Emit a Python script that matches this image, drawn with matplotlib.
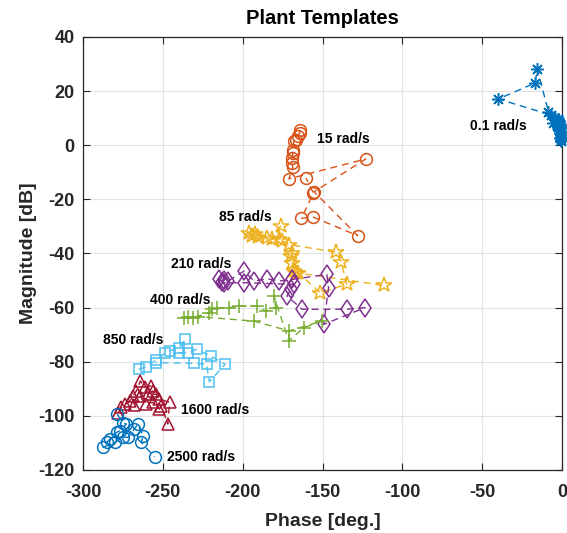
import matplotlib
matplotlib.use("Agg")
import matplotlib.pyplot as plt

plt.rcParams['font.family'] = ['Liberation Sans', 'DejaVu Sans']
plt.rcParams['font.weight'] = 'bold'
plt.rcParams['axes.unicode_minus'] = False

# Plant template boundary points (phase in degrees, magnitude in dB), one set per frequency
ph_01 = [-0.5, -0.8, -1.2, -1.6, -2.2, -3.0, -5.6, -8.5, -15.5, -16.8, -39.9, -7.2,
         -4.2, -2.8, -2.0, -1.5, -1.1, -0.7, -0.4, -0.9, -1.3, -0.6]
mg_01 = [2.0, 3.2, 4.4, 5.6, 6.8, 7.6, 8.3, 12.4, 28.2, 23.0, 17.1, 11.2,
         10.2, 9.6, 8.9, 8.0, 7.0, 6.2, 5.2, 3.8, 2.6, 1.4]

ph_15 = [-163.8, -164.4, -165.3, -166.6, -168.0, -168.6, -168.6, -169.1, -169.1, -168.6,
         -171.1, -123.0, -155.3, -128.0, -156.0, -163.2, -155.7, -160.3]
mg_15 = [5.5, 4.5, 3.5, 2.0, 1.4, -1.7, -2.9, -4.7, -6.6, -8.2,
         -12.4, -5.1, -17.2, -33.4, -26.5, -27.0, -17.7, -12.1]

ph_85 = [-196.0, -194.0, -192.0, -190.5, -184.6, -181.5, -176.3, -177.3, -175.3, -171.1,
         -141.5, -138.3, -134.8, -151.4, -165.3, -168.0, -169.1, -170.0, -169.1, -166.9, -111.3]
mg_85 = [-32.5, -33.5, -32.8, -33.8, -34.2, -34.8, -29.9, -34.8, -35.5, -36.7,
         -39.5, -43.2, -51.4, -54.5, -47.1, -46.5, -43.4, -41.0, -39.7, -47.1, -51.8]

ph_210 = [-215.0, -213.0, -211.5, -209.5, -199.1, -192.9, -184.6, -177.3, -169.0, -147.3,
          -146.2, -149.3, -123.4, -134.8, -162.8, -172.2, -170.0, -168.0, -199.1, -212.0]
mg_210 = [-49.5, -50.5, -49.8, -50.3, -46.5, -50.2, -49.3, -50.2, -49.6, -47.7,
          -52.6, -66.2, -60.0, -60.6, -60.6, -55.7, -53.3, -51.4, -50.8, -50.8]

ph_400 = [-237.0, -234.0, -231.0, -220.9, -218.9, -215.8, -208.5, -202.2, -190.8, -185.6,
          -179.4, -180.4, -171.1, -161.8, -150.4, -171.1, -192.9, -228.0]
mg_400 = [-63.7, -63.3, -63.7, -61.9, -60.5, -60.1, -60.0, -59.4, -59.4, -61.3,
          -60.0, -55.7, -72.3, -67.4, -65.0, -68.6, -65.0, -63.3]

ph_850 = [-265.0, -260.3, -254.1, -248.9, -245.8, -240.0, -235.9, -239.6, -234.4, -228.8,
          -219.9, -211.0, -220.9, -222.6, -230.7, -254.5]
mg_850 = [-82.8, -81.9, -79.3, -76.9, -76.0, -74.8, -71.7, -76.6, -76.9, -75.4,
          -77.9, -80.9, -87.4, -80.9, -80.6, -80.3]

ph_1600 = [-278.0, -275.9, -273.8, -270.7, -268.7, -266.6, -264.1, -261.4, -257.2, -256.2,
           -259.3, -254.1, -252.1, -245.8, -246.9, -251.0, -252.1, -256.2, -260.5, -264.5, -268.0]
mg_1600 = [-98.8, -96.9, -95.7, -94.5, -92.6, -90.8, -87.1, -89.5, -88.9, -90.8,
           -92.0, -92.0, -93.8, -95.0, -103.0, -96.3, -97.5, -95.0, -95.5, -92.6, -96.0]

ph_2500 = [-278.6, -274.9, -272.8, -277.0, -279.0, -283.2, -285.2, -287.4, -280.1, -274.9,
           -271.8, -268.0, -265.6, -262.5, -263.5, -255.2]
mg_2500 = [-99.4, -102.7, -103.0, -105.5, -106.1, -108.6, -109.8, -111.6, -109.8, -107.9,
           -107.9, -105.0, -103.0, -107.4, -109.8, -115.2]

labels = ['0.1 rad/s', '15 rad/s', '85 rad/s', '210 rad/s', '400 rad/s',
          '850 rad/s', '1600 rad/s', '2500 rad/s']
label_x = [-57.5, -153.7, -214.7, -244.6, -258.3, -287.5, -238.4, -247.1]
label_y = [7.0, 2.4, -26.4, -43.7, -57.0, -72.1, -97.9, -115.2]

series = [
    (ph_01, mg_01, '#0072BD', (8, 2, 0), 9),
    (ph_15, mg_15, '#D95319', 'o', 8.5),
    (ph_85, mg_85, '#EDB120', '*', 11.5),
    (ph_210, mg_210, '#7E2F8E', 'd', 9.5),
    (ph_400, mg_400, '#77AC30', '+', 9.5),
    (ph_850, mg_850, '#4DBEEE', 's', 7.5),
    (ph_1600, mg_1600, '#A2142F', '^', 8.5),
    (ph_2500, mg_2500, '#0072BD', 'o', 8.5),
]

fig = plt.figure(figsize=(5.67, 5.33), dpi=100)
ax = fig.add_axes([0.1464, 0.1182, 0.8448, 0.8124])

for ph, mg, col, mk, ms in series:
    ax.plot(ph, mg, linestyle=(0, (5, 3.5)), linewidth=1.0, color=col,
            marker=mk, markersize=ms, markerfacecolor='none',
            markeredgecolor=col, markeredgewidth=1.1, clip_on=False, zorder=3)

for txt, x, y in zip(labels, label_x, label_y):
    ax.text(x, y, txt, fontsize=10, fontweight='bold', ha='left', va='center',
            color='black', zorder=4)

ax.set_xlim(-300, 0)
ax.set_ylim(-120, 40)
ax.set_xticks(range(-300, 1, 50))
ax.set_yticks(range(-120, 41, 20))
ax.grid(True, color='#e3e3e3', linewidth=0.8, zorder=0)
ax.set_axisbelow(True)
ax.tick_params(direction='in', length=5, width=0.8, colors='#262626',
               labelsize=13, top=True, right=True, labelcolor='#262626')
ax.tick_params(axis='x', pad=10)
ax.tick_params(axis='y', pad=6)
for lab in ax.get_xticklabels() + ax.get_yticklabels():
    lab.set_fontweight('bold')
for sp in ax.spines.values():
    sp.set_color('#262626')
    sp.set_linewidth(0.9)

ax.set_xlabel('Phase [deg.]', fontsize=14, fontweight='bold', color='#262626', labelpad=9)
ax.set_ylabel('Magnitude [dB]', fontsize=14, fontweight='bold', color='#262626', labelpad=1)
ax.set_title('Plant Templates', fontsize=14.5, fontweight='bold', color='black', pad=9)

fig.savefig('out.png', dpi=100)
